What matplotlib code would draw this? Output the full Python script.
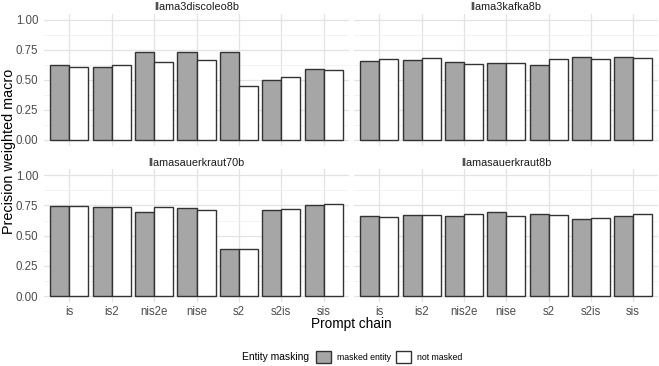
import matplotlib.pyplot as plt
import numpy as np
from matplotlib.patches import Patch

plt.rcParams['font.family'] = ['Liberation Sans', 'DejaVu Sans']

chains = ["is", "is2", "nis2e", "nise", "s2", "s2is", "sis"]
models = ["llama3discoleo8b", "llama3kafka8b", "llamasauerkraut70b", "llamasauerkraut8b"]

# precision weighted macro, per prompt chain
masked = {
    "llama3discoleo8b":   [0.623, 0.607, 0.726, 0.726, 0.731, 0.493, 0.587],
    "llama3kafka8b":      [0.656, 0.659, 0.645, 0.640, 0.618, 0.684, 0.684],
    "llamasauerkraut70b": [0.745, 0.734, 0.695, 0.731, 0.387, 0.712, 0.750],
    "llamasauerkraut8b":  [0.662, 0.670, 0.662, 0.695, 0.679, 0.635, 0.662],
}
not_masked = {
    "llama3discoleo8b":   [0.607, 0.620, 0.643, 0.662, 0.449, 0.521, 0.582],
    "llama3kafka8b":      [0.673, 0.681, 0.629, 0.640, 0.673, 0.668, 0.679],
    "llamasauerkraut70b": [0.742, 0.734, 0.734, 0.714, 0.392, 0.723, 0.761],
    "llamasauerkraut8b":  [0.657, 0.670, 0.679, 0.659, 0.670, 0.643, 0.681],
}

W, H = 659, 366
fig = plt.figure(figsize=(W / 100, H / 100), dpi=100)

# panel boxes in pixels: (left, top, right, bottom)
boxes = [(44, 13.5, 349, 145.7), (354, 13.5, 658.5, 145.7),
         (44, 169, 349, 302.3), (354, 169, 658.5, 302.3)]

GREY = "#A6A6A6"
EDGE = "#333333"
x = np.arange(len(chains))
w = 0.45

for i, (m, (l, t, r, b)) in enumerate(zip(models, boxes)):
    ax = fig.add_axes([l / W, 1 - b / H, (r - l) / W, (b - t) / H])
    ax.bar(x - w / 2, masked[m], width=w, color=GREY, edgecolor=EDGE, linewidth=1.0, zorder=3)
    ax.bar(x + w / 2, not_masked[m], width=w, color="white", edgecolor=EDGE, linewidth=1.0, zorder=3)
    ax.set_xlim(-0.6, len(chains) - 0.4)
    ax.set_ylim(-0.05, 1.05)
    ax.set_yticks([0, 0.25, 0.5, 0.75, 1.0])
    ax.set_yticks([0.125, 0.375, 0.625, 0.875], minor=True)
    ax.set_xticks(x)
    ax.grid(True, which="major", color="#E3E3E3", linewidth=0.9, zorder=0)
    ax.grid(True, which="minor", axis="y", color="#EFEFEF", linewidth=0.5, zorder=0)
    for s in ax.spines.values():
        s.set_visible(False)
    ax.tick_params(which="both", length=0, labelsize=8.3, labelcolor="#4D4D4D")
    ax.tick_params(axis="x", pad=2.5)
    ax.tick_params(axis="y", pad=4)
    if i >= 2:
        ax.set_xticklabels(chains)
    else:
        ax.set_xticklabels([])
    if i % 2 == 0:
        ax.set_yticklabels(["0.00", "0.25", "0.50", "0.75", "1.00"])
    else:
        ax.set_yticklabels([])
    ax.set_title(m, fontsize=7.8, color="#1A1A1A", pad=2.5)

fig.text(9 / W, 1 - 151.5 / H, "Precision weighted macro", rotation=90,
         ha="center", va="center", fontsize=10.4)
fig.text(351 / W, 1 - 327.7 / H, "Prompt chain", ha="center", va="baseline", fontsize=9.8)

fig.text(241.5 / W, 1 - 357 / H, "Entity masking", ha="left", va="center", fontsize=7.4)
handles = [Patch(facecolor=GREY, edgecolor=EDGE, linewidth=1.0),
           Patch(facecolor="white", edgecolor=EDGE, linewidth=1.0)]
fig.legend(handles, ["masked entity", "not masked"], ncol=2, loc="center",
           bbox_to_anchor=(389 / W, 1 - 357 / H), frameon=False, fontsize=6.3,
           handlelength=1.75, handleheight=1.75, handletextpad=0.65, columnspacing=0.6,
           borderpad=0)

fig.savefig("out.png", dpi=100)
